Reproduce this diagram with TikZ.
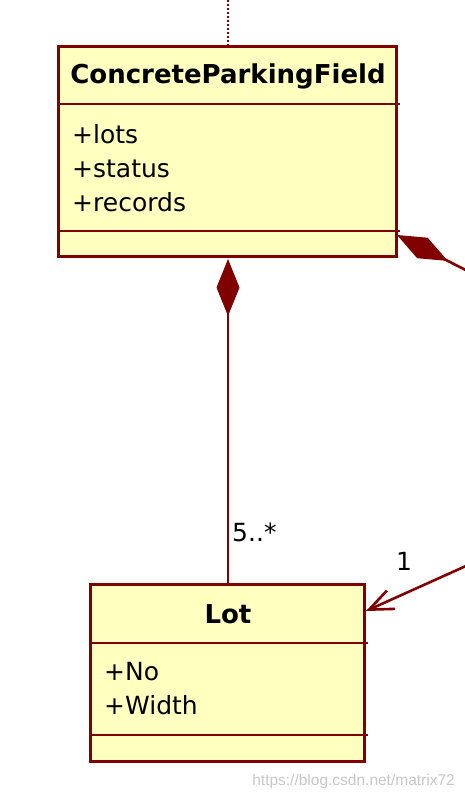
\documentclass[tikz,border=0pt]{standalone}
\usepackage{fontspec}
\setmainfont{DejaVu Sans}
\newfontfamily\wmfont{Liberation Sans}
\usetikzlibrary{arrows.meta,calc}
\definecolor{umlred}{RGB}{128,0,0}
\definecolor{umlfill}{RGB}{255,255,192}
\begin{document}
\begin{tikzpicture}[x=1pt,y=-1pt,
  classbox/.style={draw=umlred,fill=umlfill,line width=2.7pt,inner sep=0pt},
  sepline/.style={draw=umlred,line width=2.8pt},
  conn/.style={draw=umlred,line width=2.6pt},
  dotline/.style={draw=umlred,line width=2.2pt,dash pattern=on 2pt off 2pt},
  titletext/.style={inner sep=0pt,font=\fontsize{26}{30}\selectfont\bfseries},
  attrtext/.style={inner sep=0pt,font=\fontsize{25}{28}\selectfont},
  lbltext/.style={inner sep=0pt,font=\fontsize{25}{28}\selectfont},
  wmtext/.style={inner sep=0pt,text=black!22,font=\fontsize{15.5}{18}\selectfont\wmfont},
  compdiamond/.style={{Diamond[length=57pt,width=23pt,fill=umlred]}-},
  openarrow/.style={-{Straight Barb[length=24pt,width=20pt]}}]
\useasboundingbox (0,0) rectangle (464,796);

% ConcreteParkingField class
\node[classbox,minimum width=338pt,minimum height=210pt,anchor=north west] (cpf) at (57,45) {};
\draw[sepline] (cpf.west |- 0,104) -- ($(cpf.east |- 0,104)+(2,0)$);
\draw[sepline] (cpf.west |- 0,231) -- ($(cpf.east |- 0,231)+(2,0)$);
\node[titletext,anchor=base] (cpft) at (228,83) {ConcreteParkingField};
\node[attrtext,anchor=base west] (cpfa1) at (72,143) {+lots};
\node[attrtext,anchor=base west] (cpfa2) at (72,177) {+status};
\node[attrtext,anchor=base west] (cpfa3) at (72,211) {+records};

% Lot class
\node[classbox,minimum width=274pt,minimum height=177pt,anchor=north west] (lot) at (89,583) {};
\draw[sepline] (lot.west |- 0,643) -- ($(lot.east |- 0,643)+(2,0)$);
\draw[sepline] (lot.west |- 0,735) -- ($(lot.east |- 0,735)+(2,0)$);
\node[titletext,anchor=base] (lott) at (228,623) {Lot};
\node[attrtext,anchor=base west] (lota1) at (104,680) {+No};
\node[attrtext,anchor=base west] (lota2) at (104,714) {+Width};

% dotted dependency at top
\coordinate (topend) at (228,0);
\draw[dotline] (topend) -- (topend |- cpf.north);

% composition ConcreteParkingField - Lot
\coordinate (compA) at (228,259);
\draw[conn,compdiamond] (compA) -- (compA |- lot.north);
\node[lbltext,anchor=base west] (mult1) at (232,541) {5..*};

% composition from the right
\coordinate (cdtip) at (397,235);
\coordinate (cdfar) at (497,286);
\draw[conn,compdiamond] (cdtip) -- (cdfar);

% association arrow into Lot
\coordinate (atip) at (366,611);
\coordinate (afar) at (497,552);
\draw[conn,openarrow] (afar) -- (atip);
\node[lbltext,anchor=base west] (mult2) at (396,570) {1};

% watermark
\node[wmtext,anchor=base east] (wm) at (455,785) {https://blog.csdn.net/matrix72};
\end{tikzpicture}
\end{document}
